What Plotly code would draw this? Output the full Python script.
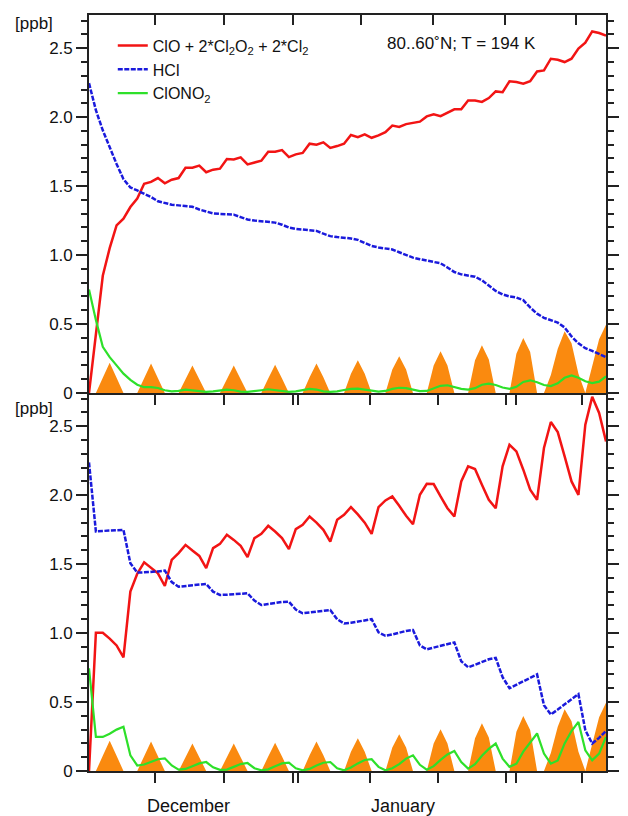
import plotly.graph_objects as go

# time step index (6 steps per light cycle)
steps = list(range(76))

# ---------------- top panel ----------------
clox_top = [0.0, 0.43, 0.85, 1.05, 1.215, 1.264, 1.348, 1.41, 1.517, 1.53,
            1.558, 1.52, 1.546, 1.558, 1.633, 1.633, 1.648, 1.60, 1.619, 1.626,
            1.696, 1.693, 1.708, 1.657, 1.672, 1.684, 1.749, 1.749, 1.761, 1.71,
            1.73, 1.74, 1.807, 1.80, 1.817, 1.776, 1.79, 1.807, 1.87, 1.855,
            1.875, 1.85, 1.867, 1.891, 1.938, 1.928, 1.949, 1.957, 1.967, 2.005,
            2.02, 2.007, 2.03, 2.056, 2.056, 2.12, 2.12, 2.11, 2.138, 2.186,
            2.18, 2.26, 2.254, 2.242, 2.26, 2.331, 2.338, 2.423, 2.416, 2.399,
            2.423, 2.496, 2.539, 2.621, 2.609, 2.59]
hcl_top = [2.246, 2.05, 1.904, 1.78, 1.66, 1.55, 1.49, 1.468, 1.445, 1.42,
           1.39, 1.375, 1.365, 1.36, 1.355, 1.35, 1.33, 1.315, 1.302, 1.298,
           1.296, 1.293, 1.275, 1.258, 1.25, 1.245, 1.24, 1.235, 1.22, 1.199,
           1.19, 1.186, 1.182, 1.175, 1.155, 1.137, 1.13, 1.126, 1.12, 1.11,
           1.085, 1.066, 1.055, 1.05, 1.04, 1.02, 1.0, 0.981, 0.97, 0.96,
           0.955, 0.94, 0.91, 0.877, 0.86, 0.85, 0.843, 0.817, 0.775, 0.74,
           0.715, 0.70, 0.692, 0.673, 0.62, 0.575, 0.545, 0.53, 0.51, 0.475,
           0.41, 0.36, 0.325, 0.305, 0.285, 0.26]
clono2_top = [0.75, 0.53, 0.335, 0.26, 0.2, 0.14, 0.095, 0.06, 0.042, 0.043,
              0.036, 0.02, 0.012, 0.015, 0.025, 0.02, 0.01, 0.008, 0.012, 0.02,
              0.025, 0.02, 0.01, 0.008, 0.012, 0.02, 0.027, 0.022, 0.012, 0.008,
              0.012, 0.022, 0.03, 0.025, 0.012, 0.008, 0.012, 0.022, 0.03, 0.032,
              0.025, 0.014, 0.01, 0.015, 0.03, 0.038, 0.035, 0.024, 0.014, 0.015,
              0.035, 0.052, 0.056, 0.045, 0.03, 0.025, 0.035, 0.06, 0.068, 0.058,
              0.04, 0.03, 0.045, 0.08, 0.092, 0.078, 0.058, 0.05, 0.07, 0.11,
              0.128, 0.11, 0.085, 0.072, 0.082, 0.121]

# ---------------- bottom panel ----------------
clox_bot = [0.0, 1.002, 1.002, 0.96, 0.91, 0.823, 1.30, 1.43, 1.513, 1.47,
            1.433, 1.341, 1.53, 1.58, 1.639, 1.598, 1.559, 1.47, 1.615, 1.646,
            1.712, 1.675, 1.632, 1.55, 1.688, 1.719, 1.777, 1.736, 1.688, 1.608,
            1.753, 1.784, 1.845, 1.801, 1.748, 1.663, 1.821, 1.857, 1.913, 1.86,
            1.80, 1.719, 1.913, 1.961, 1.99, 1.922, 1.85, 1.789, 2.002, 2.082,
            2.08, 1.99, 1.905, 1.845, 2.099, 2.208, 2.189, 2.075, 1.966, 1.905,
            2.208, 2.365, 2.317, 2.184, 2.039, 1.966, 2.341, 2.53, 2.457, 2.28,
            2.099, 2.002, 2.51, 2.712, 2.595, 2.389]
hcl_bot = [2.237, 1.736, 1.74, 1.743, 1.745, 1.748, 1.506, 1.438, 1.44, 1.442,
           1.447, 1.452, 1.37, 1.336, 1.34, 1.345, 1.352, 1.356, 1.30, 1.276,
           1.278, 1.282, 1.285, 1.288, 1.235, 1.203, 1.21, 1.218, 1.225, 1.227,
           1.17, 1.143, 1.148, 1.155, 1.162, 1.167, 1.10, 1.07, 1.075, 1.085,
           1.095, 1.10, 1.005, 0.98, 0.99, 1.003, 1.015, 1.022, 0.91, 0.882,
           0.895, 0.91, 0.922, 0.932, 0.795, 0.752, 0.77, 0.79, 0.81, 0.82,
           0.68, 0.60, 0.625, 0.65, 0.675, 0.70, 0.477, 0.41, 0.445, 0.48,
           0.52, 0.557, 0.296, 0.199, 0.24, 0.29]
clono2_bot = [0.744, 0.247, 0.247, 0.27, 0.30, 0.32, 0.114, 0.04, 0.047, 0.065,
              0.085, 0.092, 0.04, 0.01, 0.015, 0.035, 0.055, 0.065, 0.027, 0.008,
              0.01, 0.03, 0.05, 0.058, 0.02, 0.005, 0.012, 0.035, 0.055, 0.06,
              0.02, 0.005, 0.015, 0.04, 0.06, 0.065, 0.02, 0.005, 0.025, 0.055,
              0.08, 0.085, 0.03, 0.005, 0.02, 0.05, 0.09, 0.114, 0.045, 0.01,
              0.035, 0.08, 0.12, 0.145, 0.065, 0.017, 0.05, 0.11, 0.16, 0.199,
              0.09, 0.03, 0.053, 0.14, 0.21, 0.272, 0.126, 0.053, 0.077, 0.2,
              0.29, 0.356, 0.15, 0.077, 0.126, 0.247]

# sunlight indicator (orange), same in both panels
sunlight = [0, 0, 0.11, 0.22, 0.11, 0, 0, 0, 0.107, 0.213,
            0.107, 0, 0, 0, 0.10, 0.20, 0.10, 0, 0, 0,
            0.10, 0.20, 0.10, 0, 0, 0, 0.105, 0.205, 0.105, 0,
            0, 0, 0.115, 0.213, 0.115, 0, 0, 0, 0.14, 0.237,
            0.14, 0, 0, 0, 0.17, 0.266, 0.17, 0, 0, 0,
            0.2, 0.302, 0.2, 0, 0, 0, 0.237, 0.346, 0.242, 0,
            0, 0, 0.285, 0.399, 0.297, 0, 0, 0.13, 0.32, 0.447,
            0.36, 0.14, 0, 0.19, 0.39, 0.494]

# axis ticks
xticks_lower = [9.62, 19.56, 29.59, 30.36, 40.72, 50.61, 60.51, 61.93, 71.49]
xticks_upper = [9.62, 19.56, 29.59, 39.45, 49.86, 60.37, 70.7]
month_labels = ["December", "January"]
month_pos = [14.5, 45.6]
ytick_vals = [0, 0.5, 1.0, 1.5, 2.0, 2.5]
ytick_text = ["0", "0.5", "1.0", "1.5", "2.0", "2.5"]
ytick_minor = [round(0.1 * i, 1) for i in range(28)]

RED = "#F21414"
BLUE = "#1A1ADC"
GREEN = "#2EE02A"
ORANGE = "#FA8A0F"
FONT = "Liberation Sans Narrow, Liberation Sans, Arial, sans-serif"
AX = "#222222"
TXT = "#111111"

fig = go.Figure()

for xa, ya, clox, hcl, clono2, first in [("x", "y", clox_top, hcl_top, clono2_top, True),
                                         ("x2", "y2", clox_bot, hcl_bot, clono2_bot, False)]:
    fig.add_trace(go.Scatter(x=steps, y=sunlight, xaxis=xa, yaxis=ya, mode="lines",
                             line=dict(width=0, color=ORANGE), fill="tozeroy",
                             fillcolor=ORANGE, showlegend=False, hoverinfo="skip"))
    fig.add_trace(go.Scatter(x=steps, y=clox, xaxis=xa, yaxis=ya, mode="lines",
                             line=dict(color=RED, width=2.5),
                             name="ClO + 2*Cl<sub>2</sub>O<sub>2</sub> + 2*Cl<sub>2</sub>",
                             showlegend=first, legendgroup="clox"))
    fig.add_trace(go.Scatter(x=steps, y=hcl, xaxis=xa, yaxis=ya, mode="lines",
                             line=dict(color=BLUE, width=2.5, dash="5px,1.5px"),
                             name="HCl", showlegend=first, legendgroup="hcl"))
    fig.add_trace(go.Scatter(x=steps, y=clono2, xaxis=xa, yaxis=ya, mode="lines",
                             line=dict(color=GREEN, width=2.2),
                             name="ClONO<sub>2</sub>", showlegend=first, legendgroup="clono2"))

xcommon = dict(range=[0, 75], showgrid=False, zeroline=False, showline=True,
               linecolor=AX, linewidth=1.6, tickcolor=AX, tickwidth=1.6,
               tickmode="array", showticklabels=False)
ybase = dict(range=[0, 2.74], showgrid=False, zeroline=False,
             tickcolor=AX, tickwidth=1.6, tickmode="array", ticks="outside")

layout_axes = dict(
    xaxis=dict(**xcommon, domain=[0, 1], anchor="y", ticks="outside", ticklen=10,
               tickvals=xticks_lower),
    xaxis3=dict(**xcommon, overlaying="x", side="top", anchor="y", ticks="inside",
                ticklen=10, tickvals=xticks_upper),
    xaxis2=dict(**xcommon, domain=[0, 1], anchor="y2", ticks="outside", ticklen=10,
                tickvals=xticks_lower),
)

# y axes: per panel a labelled left axis plus overlays for minor/right ticks
panels = [("y", "x", [0.5, 1]), ("y2", "x2", [0, 0.5])]
next_id = 3
for ya, xa, dom in panels:
    key = "yaxis" if ya == "y" else "yaxis" + ya[1:]
    layout_axes[key] = dict(**ybase, domain=dom, anchor=xa, side="left",
                            showline=True, linecolor=AX, linewidth=1.6,
                            ticklen=11, tickvals=ytick_vals, ticktext=ytick_text,
                            showticklabels=True,
                            tickfont=dict(family=FONT, size=17, color=TXT))
    for side, vals, ln, line in [("left", ytick_minor, 7, False),
                                 ("right", ytick_vals, 11, True),
                                 ("right", ytick_minor, 7, False)]:
        layout_axes["yaxis%d" % next_id] = dict(**ybase, overlaying=ya, anchor=xa,
                                                side=side, tickvals=vals, ticklen=ln,
                                                showline=line, linecolor=AX, linewidth=1.6,
                                                showticklabels=False)
        fig.add_trace(go.Scatter(x=[None], y=[None], xaxis=xa, yaxis="y%d" % next_id,
                                 showlegend=False, hoverinfo="skip"))
        next_id += 1

fig.add_trace(go.Scatter(x=[None], y=[None], xaxis="x3", yaxis="y", showlegend=False,
                         hoverinfo="skip"))

fig.update_layout(
    width=628, height=816,
    margin=dict(l=89, r=11, t=15, b=45),
    paper_bgcolor="white", plot_bgcolor="white",
    font=dict(family=FONT, size=17, color=TXT),
    legend=dict(x=0.046, y=0.982, xanchor="left", yanchor="top",
                bgcolor="rgba(0,0,0,0)", borderwidth=0,
                font=dict(family=FONT, size=16, color=TXT),
                tracegroupgap=0, itemwidth=30),
    showlegend=True,
    **layout_axes,
)

fig.add_annotation(text="80..60˚N; T = 194 K", xref="paper", yref="paper",
                   x=0.72, y=0.9626, showarrow=False, xanchor="center", yanchor="middle",
                   font=dict(family=FONT, size=17, color=TXT))
for yy in [0.989, 0.480]:
    fig.add_annotation(text="[ppb]", xref="paper", yref="paper", x=-0.106, y=yy,
                       showarrow=False, xanchor="center", yanchor="middle",
                       font=dict(family=FONT, size=17, color=TXT))
for lab, pos in zip(month_labels, month_pos):
    fig.add_annotation(text=lab, xref="x2", yref="paper", x=pos, y=-0.0463,
                       showarrow=False, xanchor="center", yanchor="middle",
                       font=dict(family=FONT, size=18, color=TXT))

fig.write_html("out.html", config={"displayModeBar": False},
               post_script="document.body.style.margin='0';")
